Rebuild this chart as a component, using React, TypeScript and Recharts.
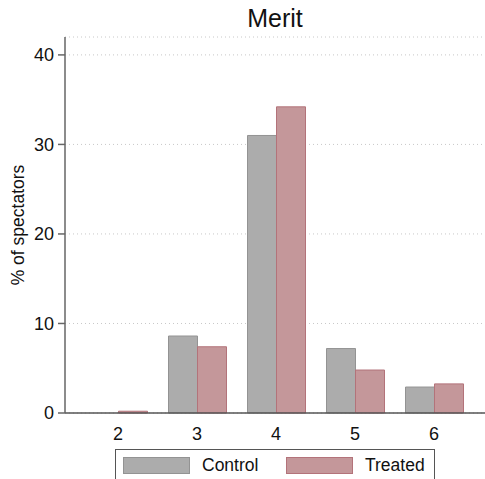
import React from 'react';
import { BarChart, Bar, XAxis, YAxis, CartesianGrid, Label } from 'recharts';

const categories = ['2', '3', '4', '5', '6'];
const controlValues = [0, 8.6, 31.0, 7.2, 2.9];
const treatedValues = [0.2, 7.4, 34.2, 4.8, 3.25];
const yTicks = [0, 10, 20, 30, 40];

const CONTROL_FILL = '#acacac';
const CONTROL_STROKE = '#939393';
const TREATED_FILL = '#c4979a';
const TREATED_STROKE = '#b3737a';
const FONT = 'Liberation Sans, Arial, sans-serif';

const data = categories.map((c, i) => ({
    name: c,
    control: controlValues[i],
    treated: treatedValues[i],
}));

const LegendBox = () => (
    <div
        style={{
            position: 'absolute',
            left: 115,
            top: 449,
            width: 320,
            height: 40,
            border: '1px solid #555',
            boxSizing: 'border-box',
            fontFamily: FONT,
            fontSize: 17.5,
            color: '#111',
        }}
    >
        <div style={{ position: 'absolute', left: 7, top: 7, width: 67, height: 17, background: CONTROL_FILL, border: `1px solid ${CONTROL_STROKE}`, boxSizing: 'border-box' }} />
        <div style={{ position: 'absolute', left: 86, top: 5, lineHeight: '20px' }}>Control</div>
        <div style={{ position: 'absolute', left: 170, top: 7, width: 67, height: 17, background: TREATED_FILL, border: `1px solid ${TREATED_STROKE}`, boxSizing: 'border-box' }} />
        <div style={{ position: 'absolute', left: 249, top: 5, lineHeight: '20px' }}>Treated</div>
    </div>
);

export default function App() {
    return (
        <div style={{ position: 'absolute', left: 0, top: 0, width: 485, height: 479, background: '#fff', overflow: 'hidden' }}>
            <div style={{ position: 'absolute', left: 65, width: 420, top: 4, textAlign: 'center', fontFamily: FONT, fontSize: 25, color: '#111' }}>
                Merit
            </div>
            <BarChart
                width={485}
                height={479}
                data={data}
                margin={{ top: 37, right: 0, left: 0, bottom: 0 }}
                barGap={0}
                barSize={29}
            >
                <CartesianGrid vertical={false} stroke="#c8c8c8" strokeDasharray="1 3" />
                <XAxis
                    dataKey="name"
                    padding={{ left: 13.5, right: 11.5 }}
                    tickLine={false}
                    tickMargin={8}
                    stroke="#555"
                    strokeWidth={1.5}
                    tick={{ fontSize: 18, fill: '#111', fontFamily: FONT }}
                    height={66}
                />
                <YAxis
                    width={65}
                    domain={[0, 42]}
                    ticks={yTicks}
                    tickSize={7}
                    tickMargin={4}
                    stroke="#666"
                    strokeWidth={1.5}
                    tick={{ fontSize: 18, fill: '#111', fontFamily: FONT }}
                >
                    <Label
                        value="% of spectators"
                        angle={-90}
                        position="center"
                        dx={-15}
                        style={{ fontSize: 17.5, fill: '#111', fontFamily: FONT, textAnchor: 'middle' }}
                    />
                </YAxis>
                <Bar dataKey="control" name="Control" fill={CONTROL_FILL} stroke={CONTROL_STROKE} strokeWidth={1} isAnimationActive={false} />
                <Bar dataKey="treated" name="Treated" fill={TREATED_FILL} stroke={TREATED_STROKE} strokeWidth={1} isAnimationActive={false} />
            </BarChart>
            <LegendBox />
        </div>
    );
}
